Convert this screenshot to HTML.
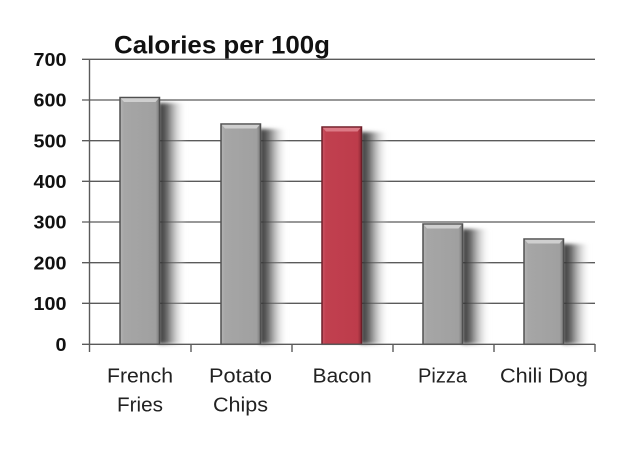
<!DOCTYPE html>
<html><head><meta charset="utf-8"><style>
html,body{margin:0;padding:0;background:#fff;}
svg{display:block;}
</style></head><body>
<svg width="628" height="474" viewBox="0 0 628 474" xmlns="http://www.w3.org/2000/svg">
<defs>
<linearGradient id="sh" x1="0" y1="0" x2="1" y2="0">
<stop offset="0" stop-color="#2e2e2e" stop-opacity="1"/>
<stop offset="0.3" stop-color="#555" stop-opacity="0.85"/>
<stop offset="0.6" stop-color="#999" stop-opacity="0.5"/>
<stop offset="1" stop-color="#ffffff" stop-opacity="0"/>
</linearGradient>
<filter id="bl" x="-50%" y="-10%" width="200%" height="120%"><feGaussianBlur stdDeviation="1.8"/></filter>
<linearGradient id="gg" x1="0" y1="0" x2="1" y2="0">
<stop offset="0" stop-color="#b4b4b4"/>
<stop offset="0.1" stop-color="#a6a6a6"/>
<stop offset="0.9" stop-color="#a0a0a0"/>
<stop offset="1" stop-color="#7a7a7a"/>
</linearGradient>
<linearGradient id="rg" x1="0" y1="0" x2="1" y2="0">
<stop offset="0" stop-color="#c85564"/>
<stop offset="0.1" stop-color="#c1404f"/>
<stop offset="0.9" stop-color="#bd3c4b"/>
<stop offset="1" stop-color="#8e2a36"/>
</linearGradient>
</defs>
<rect width="628" height="474" fill="#fff"/>
<g stroke="#5a5a5a" stroke-width="1.3">
<line x1="82" y1="59.3" x2="595" y2="59.3"/>
<line x1="82" y1="100" x2="595" y2="100"/>
<line x1="82" y1="140.7" x2="595" y2="140.7"/>
<line x1="82" y1="181.3" x2="595" y2="181.3"/>
<line x1="82" y1="222" x2="595" y2="222"/>
<line x1="82" y1="262.7" x2="595" y2="262.7"/>
<line x1="82" y1="303.3" x2="595" y2="303.3"/>
</g>
<g filter="url(#bl)">
<rect x="159" y="103" width="28" height="241" fill="url(#sh)"/>
<rect x="260" y="129" width="28" height="215" fill="url(#sh)"/>
<rect x="361" y="132" width="28" height="212" fill="url(#sh)"/>
<rect x="462.5" y="229" width="28" height="115" fill="url(#sh)"/>
<rect x="563" y="244" width="28" height="100" fill="url(#sh)"/>
</g>
<g stroke="#505050" stroke-width="1.5">
<rect x="120" y="97.5" width="39.5" height="246.8" fill="url(#gg)"/>
<rect x="221" y="124" width="39.5" height="220.3" fill="url(#gg)"/>
<rect x="322" y="127" width="39.5" height="217.3" fill="url(#rg)" stroke="#6e1e28"/>
<rect x="423" y="224" width="39.5" height="120.3" fill="url(#gg)"/>
<rect x="524" y="239" width="39.5" height="105.3" fill="url(#gg)"/>
</g>
<g>
<polygon points="120.8,98.3 158.7,98.3 155.5,102 124,102" fill="#cfcfcf"/>
<polygon points="221.8,124.8 259.7,124.8 256.5,128.5 225,128.5" fill="#cfcfcf"/>
<polygon points="322.8,127.8 360.7,127.8 357.5,131.5 326,131.5" fill="#dc7a86"/>
<polygon points="423.8,224.8 461.7,224.8 458.5,228.5 427,228.5" fill="#cfcfcf"/>
<polygon points="524.8,239.8 562.7,239.8 559.5,243.5 528,243.5" fill="#cfcfcf"/>
</g>
<g stroke="#5a5a5a" stroke-width="1.4">
<line x1="89.5" y1="59" x2="89.5" y2="352"/>
<line x1="82" y1="344.3" x2="595" y2="344.3"/>
<line x1="191" y1="344" x2="191" y2="352"/>
<line x1="292" y1="344" x2="292" y2="352"/>
<line x1="393" y1="344" x2="393" y2="352"/>
<line x1="494" y1="344" x2="494" y2="352"/>
<line x1="595" y1="344" x2="595" y2="352"/>
</g>
<g font-family="Liberation Sans, sans-serif" font-weight="bold" font-size="18.5" fill="#111" text-anchor="end">
<text x="66.5" y="66" textLength="33" lengthAdjust="spacingAndGlyphs">700</text>
<text x="66.5" y="106.7" textLength="33" lengthAdjust="spacingAndGlyphs">600</text>
<text x="66.5" y="147.4" textLength="33" lengthAdjust="spacingAndGlyphs">500</text>
<text x="66.5" y="188" textLength="33" lengthAdjust="spacingAndGlyphs">400</text>
<text x="66.5" y="228.7" textLength="33" lengthAdjust="spacingAndGlyphs">300</text>
<text x="66.5" y="269.4" textLength="33" lengthAdjust="spacingAndGlyphs">200</text>
<text x="66.5" y="310" textLength="33" lengthAdjust="spacingAndGlyphs">100</text>
<text x="66.5" y="350.8" textLength="11" lengthAdjust="spacingAndGlyphs">0</text>
</g>
<text x="114" y="53.5" font-family="Liberation Sans, sans-serif" font-weight="bold" font-size="25" fill="#111" textLength="216" lengthAdjust="spacingAndGlyphs">Calories per 100g</text>
<g font-family="Liberation Sans, sans-serif" font-size="20" fill="#222">
<text x="107" y="382.7" textLength="66" lengthAdjust="spacingAndGlyphs">French</text>
<text x="117" y="411.7" textLength="46" lengthAdjust="spacingAndGlyphs">Fries</text>
<text x="209" y="382.7" textLength="63" lengthAdjust="spacingAndGlyphs">Potato</text>
<text x="213" y="411.7" textLength="55" lengthAdjust="spacingAndGlyphs">Chips</text>
<text x="312.7" y="382.7" textLength="59" lengthAdjust="spacingAndGlyphs">Bacon</text>
<text x="418" y="382.7" textLength="49" lengthAdjust="spacingAndGlyphs">Pizza</text>
<text x="500" y="382.7" textLength="88" lengthAdjust="spacingAndGlyphs">Chili Dog</text>
</g>
</svg>
</body></html>
